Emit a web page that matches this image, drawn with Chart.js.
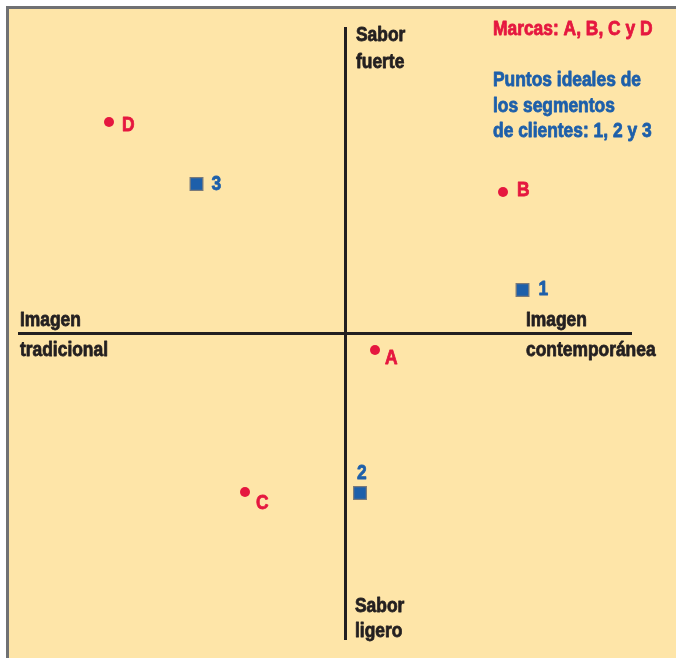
<!DOCTYPE html>
<html>
<head>
<meta charset="utf-8">
<script src="https://cdn.jsdelivr.net/npm/chart.js@4.4.1/dist/chart.umd.min.js"></script>
<style>
	html, body { margin: 0; padding: 0; background: #ffffff; }
	#wrap { width: 676px; height: 658px; }
</style>
</head>
<body>
<div id="wrap"><canvas id="mapa" width="676" height="658"></canvas></div>
<script>
// Mapa perceptual: marcas y puntos ideales de los segmentos
const brandNames = ['D', 'B', 'A', 'C'];
const brandX = [-23.6, 15.8, 3.0, -10.0];
const brandY = [21.1, 14.1, -1.7, -15.9];

const segmentNames = ['3', '1', '2'];
const segmentX = [-14.85, 17.75, 1.5];
const segmentY = [14.9, 4.3, -16.0];

// etiquetas de los ejes
const axisLabels = {
	left: ['Imagen', 'tradicional'],
	right: ['Imagen', 'contemporánea'],
	top: ['Sabor', 'fuerte'],
	bottom: ['Sabor', 'ligero'],
};
const legendBrands = 'Marcas: A, B, C y D';
const legendSegments = ['Puntos ideales de', 'los segmentos', 'de clientes: 1, 2 y 3'];

const RED = '#e5173f';
const BLUE = '#1d5faa';
const INK = '#231f20';
const FONT = 'bold 20px "Liberation Sans", Arial, sans-serif';
const NARROW = 0.87; // squeeze the sans to a condensed look

// offsets of each point label from its mark (px)
const brandOffsets = { D: [13, 9], B: [14, 4], A: [10, 14], C: [11, 17] };
const segmentOffsets = { '3': [15, 6], '1': [16, 5], '2': [-3, -14] };

function narrowText(ctx, text, x, y) {
	ctx.save();
	ctx.translate(x, y);
	ctx.scale(NARROW, 1);
	ctx.strokeStyle = ctx.fillStyle;
	ctx.lineWidth = 0.8;
	ctx.lineJoin = 'round';
	ctx.strokeText(text, 0, 0);
	ctx.fillText(text, 0, 0);
	ctx.restore();
}

const frame = {
	id: 'frame',
	beforeDraw(chart) {
		const ctx = chart.ctx;
		ctx.save();
		ctx.fillStyle = '#ffffff';
		ctx.fillRect(0, 0, chart.width, chart.height);
		ctx.fillStyle = '#707173';
		ctx.fillRect(6, 6, chart.width - 6, chart.height - 6);
		ctx.fillStyle = '#fee5a8';
		ctx.fillRect(9, 9, chart.width - 9, chart.height - 9);
		ctx.restore();
	}
};

const texts = {
	id: 'texts',
	afterDraw(chart) {
		const ctx = chart.ctx;
		ctx.save();
		ctx.font = FONT;
		ctx.textAlign = 'left';
		ctx.textBaseline = 'alphabetic';

		// axis titles
		ctx.fillStyle = INK;
		narrowText(ctx, axisLabels.left[0], 20, 326);
		narrowText(ctx, axisLabels.left[1], 20, 356);
		narrowText(ctx, axisLabels.right[0], 526, 326);
		narrowText(ctx, axisLabels.right[1], 526, 356);
		narrowText(ctx, axisLabels.top[0], 356, 41);
		narrowText(ctx, axisLabels.top[1], 356, 68);
		narrowText(ctx, axisLabels.bottom[0], 355, 612);
		narrowText(ctx, axisLabels.bottom[1], 355, 637);

		// key
		ctx.fillStyle = RED;
		narrowText(ctx, legendBrands, 493, 35);
		ctx.fillStyle = BLUE;
		legendSegments.forEach((line, i) => {
			narrowText(ctx, line, 493, 86 + i * 25.5);
		});

		// point labels
		const xs = chart.scales.x;
		const ys = chart.scales.y;
		ctx.fillStyle = RED;
		brandNames.forEach((name, i) => {
			const off = brandOffsets[name];
			narrowText(ctx, name, xs.getPixelForValue(brandX[i]) + off[0], ys.getPixelForValue(brandY[i]) + off[1]);
		});
		ctx.fillStyle = BLUE;
		segmentNames.forEach((name, i) => {
			const off = segmentOffsets[name];
			narrowText(ctx, name, xs.getPixelForValue(segmentX[i]) + off[0], ys.getPixelForValue(segmentY[i]) + off[1]);
		});
		ctx.restore();
	}
};

const canvas = document.getElementById('mapa');
new Chart(canvas.getContext('2d'), {
	type: 'scatter',
	data: {
		datasets: [
			{
				label: 'Marcas',
				data: brandX.map((x, i) => ({ x: x, y: brandY[i] })),
				pointStyle: 'circle',
				pointRadius: 5,
				backgroundColor: RED,
				borderColor: RED,
				borderWidth: 0,
			},
			{
				label: 'Segmentos',
				data: segmentX.map((x, i) => ({ x: x, y: segmentY[i] })),
				pointStyle: 'rect',
				pointRadius: 9,
				backgroundColor: BLUE,
				borderColor: '#7a7a7a',
				borderWidth: 1.2,
			},
		],
	},
	options: {
		responsive: false,
		animation: false,
		events: [],
		layout: {
			padding: { left: 19, right: 45, top: 28, bottom: 19 },
		},
		plugins: {
			legend: { display: false },
			tooltip: { enabled: false },
		},
		scales: {
			x: {
				type: 'linear',
				position: { y: 0 },
				min: -32.6,
				max: 28.6,
				grid: { display: false, drawTicks: false },
				ticks: { display: false },
				border: { display: true, color: INK, width: 3 },
			},
			y: {
				type: 'linear',
				position: { x: 0 },
				min: -30.6,
				max: 30.5,
				grid: { display: false, drawTicks: false },
				ticks: { display: false },
				border: { display: true, color: INK, width: 3 },
			},
		},
	},
	plugins: [frame, texts],
});
</script>
</body>
</html>
